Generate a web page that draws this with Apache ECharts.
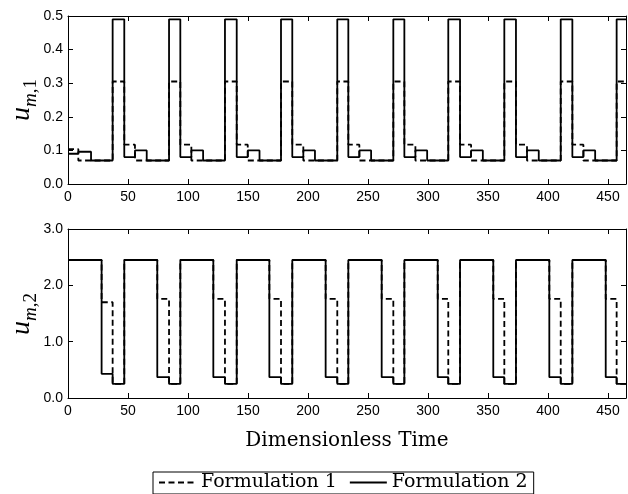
<!DOCTYPE html>
<html>
<head>
<meta charset="utf-8">
<script src="https://cdn.jsdelivr.net/npm/echarts@6/dist/echarts.min.js"></script>
<style>
  html, body { margin: 0; padding: 0; background: #fff; }
  #chart { width: 628px; height: 494px; }
</style>
</head>
<body>
<div id="chart"></div>
<script>
// Switching times of the periodic controls (dimensionless time)
const fallT   = [28.0, 74.4, 121.1, 167.8, 214.7, 261.4, 308.1, 354.4, 401.1, 448.1];
const switchT = [37.2, 84.2, 130.8, 177.5, 224.4, 271.1, 316.9, 363.6, 410.6, 457.2];
const riseT   = [46.9, 93.6, 140.6, 186.9, 233.6, 280.3, 326.7, 373.3, 420.3];
const holdT   = [8.6, 55.8, 102.8, 149.8, 196.1, 242.8, 289.5, 335.9, 382.5, 429.5];
const settleT = [19.2, 65.6, 112.6, 159.6, 205.8, 252.6, 299.3, 345.7, 392.3, 439.3];
const tEnd = 465;

// u_{m,1}, Formulation 2 (solid)
const u1F2Post = [0.09, 0.08, 0.08, 0.08, 0.08, 0.08, 0.08, 0.08, 0.08, 0.08];
const u1F2Mid  = [0.096, 0.10, 0.10, 0.10, 0.10, 0.10, 0.10, 0.10, 0.10, 0.10];
const u1F2Base = [0.07, 0.07, 0.07, 0.07, 0.07, 0.07, 0.07, 0.07, 0.07, 0.07];
const u1F2Peak = [0.49, 0.49, 0.49, 0.49, 0.49, 0.49, 0.49, 0.49, 0.49, 0.49];
// u_{m,1}, Formulation 1 (dashed)
const u1F1Post = [0.104, 0.117, 0.117, 0.117, 0.117, 0.117, 0.117, 0.117, 0.117, 0.117];
const u1F1Base = [0.07, 0.07, 0.07, 0.07, 0.07, 0.07, 0.07, 0.07, 0.07, 0.07];
const u1F1Peak = [0.305, 0.305, 0.305, 0.305, 0.305, 0.305, 0.305, 0.305, 0.305, 0.305];

// u_{m,2}
const u2High  = [2.45, 2.45, 2.45, 2.45, 2.45, 2.45, 2.45, 2.45, 2.45, 2.45];
const u2Low   = [0.25, 0.25, 0.25, 0.25, 0.25, 0.25, 0.25, 0.25, 0.25, 0.25];
const u2F2Mid = [0.43, 0.37, 0.37, 0.37, 0.37, 0.37, 0.37, 0.37, 0.37, 0.37];
const u2F1Mid = [1.70, 1.76, 1.76, 1.76, 1.76, 1.76, 1.76, 1.76, 1.76, 1.76];

const xTicks = [0, 50, 100, 150, 200, 250, 300, 350, 400, 450];

// Step points: [start time, level held from that time]
function topSteps(post, mid, base, peak) {
  const pts = [];
  for (let n = 0; n < switchT.length; n++) {
    pts.push([n === 0 ? 0 : riseT[n - 1], post[n]]);
    pts.push([holdT[n], mid[n]]);
    pts.push([settleT[n], base[n]]);
    pts.push([switchT[n], peak[n]]);
  }
  pts.push([tEnd, peak[peak.length - 1]]);
  return pts;
}
function bottomSteps(high, mid, low) {
  const pts = [];
  for (let n = 0; n < fallT.length; n++) {
    pts.push([n === 0 ? 0 : riseT[n - 1], high[n]]);
    pts.push([fallT[n], mid[n]]);
    pts.push([switchT[n], low[n]]);
  }
  pts.push([tEnd, low[low.length - 1]]);
  return pts;
}

const SANS = 'Liberation Sans, Arial, sans-serif';
const SERIF = 'DejaVu Serif, Liberation Serif, serif';
const MATH = 'Liberation Serif, Times New Roman, serif';
const INK = '#000';

function ticks() {
  return { show: true, inside: true, length: 5, lineStyle: { color: INK, width: 1 } };
}
function axisLine() {
  return { show: true, onZero: false, lineStyle: { color: INK, width: 1 } };
}

function xAxisDef(gridIndex, bottom, extra) {
  return Object.assign({
    type: 'value', gridIndex, position: bottom ? 'bottom' : 'top',
    min: 0, max: tEnd, interval: 50,
    axisLine: axisLine(), axisTick: ticks(), splitLine: { show: false },
    axisLabel: bottom ? {
      show: true, color: INK, fontFamily: SANS, fontSize: 14, margin: 6,
      showMaxLabel: false,
      formatter: v => (xTicks.indexOf(v) >= 0 ? String(v) : '')
    } : { show: false }
  }, extra || {});
}
function yAxisDef(gridIndex, left, max, interval) {
  return {
    type: 'value', gridIndex, position: left ? 'left' : 'right',
    min: 0, max, interval,
    axisLine: axisLine(), axisTick: ticks(), splitLine: { show: false },
    axisLabel: left ? {
      show: true, color: INK, fontFamily: SANS, fontSize: 14, margin: 5,
      formatter: v => v.toFixed(1)
    } : { show: false }
  };
}

// Math-style axis titles u_{m,1} and u_{m,2}
const nameRich = {
  u: { fontFamily: MATH, fontStyle: 'italic', fontSize: 28, fill: INK, padding: [0, 0, 5, 0], verticalAlign: 'bottom' },
  m: { fontFamily: MATH, fontStyle: 'italic', fontSize: 19, fill: INK, verticalAlign: 'bottom' },
  c: { fontFamily: MATH, fontSize: 19, fill: INK, verticalAlign: 'bottom' }
};
function yTitle(sub, cy) {
  return {
    type: 'text', x: 24, y: cy, rotation: Math.PI / 2,
    style: { text: '{u|u}{m|m}{c|,' + sub + '}', rich: nameRich, align: 'center', verticalAlign: 'middle' }
  };
}

const dashed = { color: INK, width: 1.8, type: [6, 3.5] };
const solid = { color: INK, width: 1.8, type: 'solid' };

const option = {
  animation: false,
  backgroundColor: '#fff',
  grid: [
    { left: 68, top: 16, width: 558, height: 168, containLabel: false, outerBoundsMode: 'none' },
    { left: 68, top: 229, width: 558, height: 169, containLabel: false, outerBoundsMode: 'none' }
  ],
  xAxis: [
    xAxisDef(0, true),
    xAxisDef(0, false),
    xAxisDef(1, true, {
      name: 'Dimensionless Time', nameLocation: 'middle', nameGap: 33,
      nameTextStyle: { fontFamily: SERIF, fontSize: 20, color: INK }
    }),
    xAxisDef(1, false)
  ],
  yAxis: [
    yAxisDef(0, true, 0.5, 0.1),
    yAxisDef(0, false, 0.5, 0.1),
    yAxisDef(1, true, 3, 1),
    yAxisDef(1, false, 3, 1)
  ],
  graphic: [yTitle('1', 100), yTitle('2', 314)],
  legend: {
    data: ['Formulation 1', 'Formulation 2'],
    left: 153, top: 472,
    orient: 'horizontal',
    itemWidth: 37, itemHeight: 14, itemGap: 12,
    padding: [1, 6, 2, 5],
    borderColor: INK, borderWidth: 1, borderRadius: 0,
    itemStyle: { opacity: 0 },
    textStyle: { fontFamily: SERIF, fontSize: 19, color: INK },
    selectedMode: false
  },
  series: [
    {
      name: 'Formulation 2', type: 'line', step: 'end', xAxisIndex: 0, yAxisIndex: 0,
      symbol: 'none', lineStyle: solid, itemStyle: { color: INK }, z: 3,
      data: topSteps(u1F2Post, u1F2Mid, u1F2Base, u1F2Peak)
    },
    {
      name: 'Formulation 1', type: 'line', step: 'end', xAxisIndex: 0, yAxisIndex: 0,
      symbol: 'none', lineStyle: dashed, itemStyle: { color: INK }, z: 2,
      data: topSteps(u1F1Post, u1F1Base, u1F1Base, u1F1Peak)
    },
    {
      name: 'Formulation 2', type: 'line', step: 'end', xAxisIndex: 2, yAxisIndex: 2,
      symbol: 'none', lineStyle: solid, itemStyle: { color: INK }, z: 3,
      data: bottomSteps(u2High, u2F2Mid, u2Low)
    },
    {
      name: 'Formulation 1', type: 'line', step: 'end', xAxisIndex: 2, yAxisIndex: 2,
      symbol: 'none', lineStyle: dashed, itemStyle: { color: INK }, z: 2,
      data: bottomSteps(u2High, u2F1Mid, u2Low)
    }
  ]
};

const chart = echarts.init(document.getElementById('chart'), null, { renderer: 'canvas' });
chart.setOption(option);
</script>
</body>
</html>
